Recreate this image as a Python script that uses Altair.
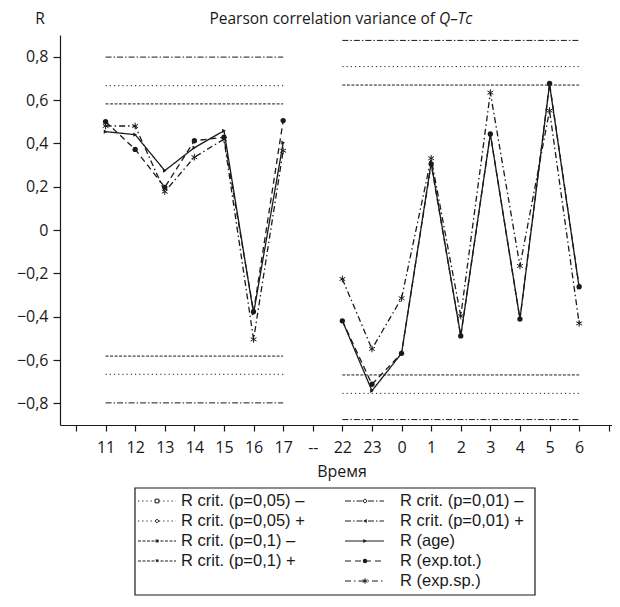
import json
import altair as alt
import pandas as pd

# ---------------- data ----------------
tick_labels = ["", "11", "12", "13", "14", "15", "16", "17", "--",
               "22", "23", "0", "1", "2", "3", "4", "5", "6", ""]
hours_day = ["11", "12", "13", "14", "15", "16", "17"]
hours_night = ["22", "23", "0", "1", "2", "3", "4", "5", "6"]

age_day = [0.454, 0.44, 0.274, 0.38, 0.458, -0.385, 0.403]
tot_day = [0.50, 0.372, 0.197, 0.412, 0.428, -0.377, 0.505]
sp_day = [0.48, 0.48, 0.177, 0.336, 0.419, -0.505, 0.366]

age_night = [-0.419, -0.742, -0.569, 0.31, -0.489, 0.443, -0.411, 0.672, -0.265]
tot_night = [-0.419, -0.712, -0.569, 0.305, -0.489, 0.443, -0.411, 0.677, -0.262]
sp_night = [-0.226, -0.549, -0.315, 0.331, -0.397, 0.634, -0.166, 0.551, -0.431]

crit_levels = ["0.05", "0.1", "0.01"]
crit_day = [0.666, 0.582, 0.798]
crit_night = [0.754, 0.669, 0.875]

y_ticks = [-0.8, -0.6, -0.4, -0.2, 0, 0.2, 0.4, 0.6, 0.8]

# ---------------- tables ----------------
rows = []
for name, d, n in [("age", age_day, age_night), ("tot", tot_day, tot_night), ("sp", sp_day, sp_night)]:
    for h, v in zip(hours_day, d):
        rows.append(dict(series=name, group="day", pos=tick_labels.index(h), r=v))
    for h, v in zip(hours_night, n):
        rows.append(dict(series=name, group="night", pos=tick_labels.index(h), r=v))
series_df = pd.DataFrame(rows)

crows = []
for group, hours, vals in [("day", hours_day, crit_day), ("night", hours_night, crit_night)]:
    for lev, v in zip(crit_levels, vals):
        for sign in (-1, 1):
            crows.append(dict(level=lev, group=group, x1=tick_labels.index(hours[0]),
                              x2=tick_labels.index(hours[-1]), r=sign * v))
crit_df = pd.DataFrame(crows)

# ---------------- styles ----------------
INK = "#1a1a1a"
FONT = "Open Sans"
LFONT = "Liberation Sans"
STAR = "M0,-1L0,1M-0.866,-0.5L0.866,0.5M-0.866,0.5L0.866,-0.5"
crit_dash = {"0.05": [1.2, 3], "0.1": [3, 1.5], "0.01": [6, 2, 1.5, 2]}
series_style = {
    "age": dict(dash=[1, 0], shape="triangle-right", filled=True, size=18),
    "tot": dict(dash=[6, 4], shape="circle", filled=True, size=28),
    "sp": dict(dash=[6, 3, 1.5, 3], shape=STAR, filled=False, size=45),
}

xscale = alt.Scale(domain=[-0.54, 18.11], nice=False, zero=False)
yscale = alt.Scale(domain=[-0.9, 0.9], nice=False, zero=False)
label_expr = json.dumps(tick_labels) + "[datum.value]"
xaxis = alt.Axis(values=list(range(19)), labelExpr=label_expr, title=None,
                 grid=False, tickSize=6, labelPadding=8, labelFlush=False,
                 labelOverlap=False)
yaxis = alt.Axis(values=y_ticks, title=None, grid=False, tickSize=7, labelPadding=5,
                 labelExpr="datum.value == 0 ? '0' : replace(format(datum.value, '.1f'), '.', ',')")
X = alt.X("pos:Q", scale=xscale, axis=xaxis)
Y = alt.Y("r:Q", scale=yscale, axis=yaxis)

layers = []
for name in ["sp", "tot", "age"]:
    st = series_style[name]
    base = alt.Chart(series_df).transform_filter(alt.datum.series == name)
    layers.append(
        base.mark_line(color=INK, strokeWidth=1.3, strokeDash=st["dash"])
        .encode(x=X, y=Y, detail="group:N")
    )
    layers.append(
        base.mark_point(color=INK, shape=st["shape"], filled=st["filled"], size=st["size"],
                        strokeWidth=1, opacity=1)
        .encode(x=X, y=Y)
    )

for lev in crit_levels:
    layers.append(
        alt.Chart(crit_df).transform_filter(alt.datum.level == lev)
        .mark_rule(color=INK, strokeWidth=1, strokeDash=crit_dash[lev])
        .encode(x=alt.X("x1:Q", scale=xscale, axis=xaxis),
                x2="x2:Q", y=alt.Y("r:Q", scale=yscale, axis=yaxis))
    )

dummy = pd.DataFrame({"a": [0]})

def txt(text, x, y, size=16, align="center", style="normal", baseline="middle", font=FONT):
    return alt.Chart(dummy).mark_text(text=text, font=font, fontSize=size, align=align,
                                      baseline=baseline, fontStyle=style, color=INK).encode(
        x=alt.value(x), y=alt.value(y))

# titles
layers.append(txt("Pearson correlation variance of", 375, -11, 15.5, "right", baseline="alphabetic"))
layers.append(txt("Q–Tc", 379, -11, 15.5, "left", "italic", baseline="alphabetic"))
layers.append(txt("R", -20, -11, 15.5, baseline="alphabetic"))
layers.append(txt("Время", 282, 437, 16))

# legend box
layers.append(alt.Chart(dummy).mark_rect(fill="white", stroke=INK, strokeWidth=1.2).encode(
    x=alt.value(75), x2=alt.value(475), y=alt.value(453), y2=alt.value(560)))

legend_entries = [
    ("R crit. (p=0,05) –", crit_dash["0.05"], "square", False, 14, 0, 0),
    ("R crit. (p=0,05) +", crit_dash["0.05"], "diamond", False, 14, 0, 1),
    ("R crit. (p=0,1) –", crit_dash["0.1"], STAR, False, 14, 0, 2),
    ("R crit. (p=0,1) +", crit_dash["0.1"], "triangle-down", True, 12, 0, 3),
    ("R crit. (p=0,01) –", crit_dash["0.01"], "diamond", False, 18, 1, 0),
    ("R crit. (p=0,01) +", crit_dash["0.01"], "triangle-left", True, 16, 1, 1),
    ("R (age)", series_style["age"]["dash"], "triangle-right", True, 16, 1, 2),
    ("R (exp.tot.)", series_style["tot"]["dash"], "circle", True, 20, 1, 3),
    ("R (exp.sp.)", series_style["sp"]["dash"], STAR, False, 30, 1, 4),
]
col_x = [(78, 116, 97, 121), (285, 324, 305, 340)]
for label, dash, shape, filled, size, c, r in legend_entries:
    x0, x1, xm, xt = col_x[c]
    yy = 466 + 20 * r
    layers.append(alt.Chart(dummy).mark_rule(color=INK, strokeWidth=1, strokeDash=dash).encode(
        x=alt.value(x0), x2=alt.value(x1), y=alt.value(yy)))
    layers.append(alt.Chart(dummy).mark_point(color=INK, shape=shape, filled=filled, size=size,
                                              strokeWidth=1, opacity=1,
                                              fill=INK if filled else "white").encode(
        x=alt.value(xm), y=alt.value(yy)))
    layers.append(txt(label, xt, yy, 16.5, "left", font=LFONT))

chart = alt.layer(*layers).properties(
    width=552, height=390,
    autosize=alt.AutoSizeParams(type="none"),
    padding={"left": 52, "top": 27, "right": 0, "bottom": 180},
).configure_view(stroke=None).configure_axis(
    domainColor=INK, tickColor=INK, labelColor=INK, labelFont=FONT, labelFontSize=16,
    domainWidth=1.2, tickWidth=1.2,
)

chart.save("out.html", embed_options={"renderer": "svg", "actions": False})
